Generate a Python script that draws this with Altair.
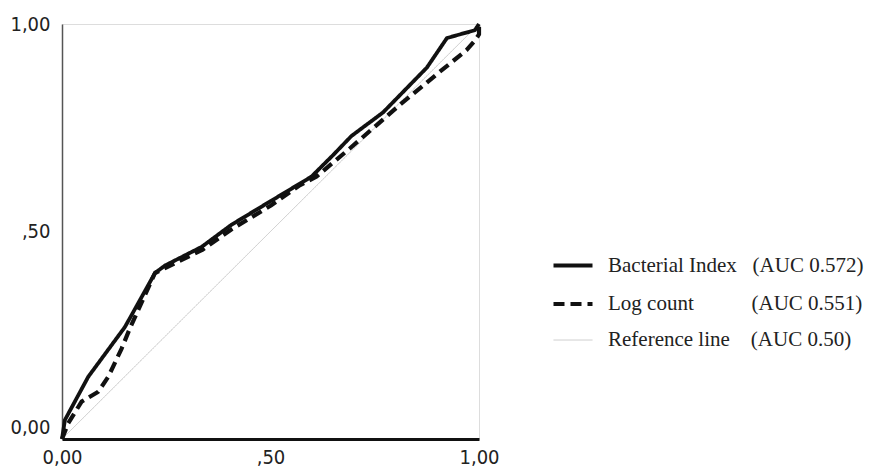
import altair as alt
import pandas as pd

# ROC data
bi_fpr = [0, 0.007, 0.02, 0.063, 0.151, 0.223, 0.247, 0.335, 0.406, 0.5, 0.598, 0.65, 0.694, 0.77, 0.875, 0.923, 0.947, 0.99, 1.0]
bi_tpr = [0, 0.046, 0.07, 0.15, 0.27, 0.40, 0.418, 0.463, 0.516, 0.573, 0.632, 0.684, 0.73, 0.787, 0.895, 0.966, 0.973, 0.985, 1.0]

lc_fpr = [0, 0.015, 0.047, 0.087, 0.111, 0.143, 0.163, 0.223, 0.247, 0.335, 0.406, 0.5, 0.571, 0.61, 0.69, 0.81, 0.906, 0.97, 0.99, 1.0, 1.0]
lc_tpr = [0, 0.038, 0.09, 0.114, 0.15, 0.218, 0.267, 0.40, 0.412, 0.455, 0.505, 0.562, 0.612, 0.632, 0.70, 0.805, 0.885, 0.937, 0.96, 0.975, 1.0]

ref_fpr = [0, 1]
ref_tpr = [0, 1]

series_names = [
    "Bacterial Index\u00a0\u00a0\u00a0(AUC 0.572)",
    "\u00a0Log count\u00a0\u00a0\u00a0\u00a0\u00a0\u00a0\u00a0\u00a0\u00a0\u00a0\u00a0(AUC 0.551)",
    "Reference line\u00a0\u00a0\u00a0\u00a0(AUC 0.50)",
]
series_colors = ["#111111", "#111111", "#c8c8c8"]
series_dash = [[1, 0], [11, 6], [1, 0]]
series_width = [3.8, 4.2, 1]

tick_values = [0, 0.5, 1]
tick_labels = ["0,00", ",50", "1,00"]

rows = []
# drawing order: reference first, dashed, then solid on top
for name, xs, ys in [
    (series_names[2], ref_fpr, ref_tpr),
    (series_names[1], lc_fpr, lc_tpr),
    (series_names[0], bi_fpr, bi_tpr),
]:
    for i, (x, y) in enumerate(zip(xs, ys)):
        rows.append({"series": name, "fpr": x, "tpr": y, "idx": i})
df = pd.DataFrame(rows)

label_expr = " : ".join(
    f"datum.value == {v} ? '{l}'" for v, l in zip(tick_values, tick_labels)
) + " : ''"

axis_font = "DejaVu Sans Condensed, DejaVu Sans"

chart = alt.Chart(df).mark_line(strokeCap="butt", strokeJoin="round").encode(
    x=alt.X("fpr:Q", scale=alt.Scale(domain=[0, 1], nice=False, zero=False),
            axis=alt.Axis(values=tick_values, labelExpr=label_expr, title=None,
                          ticks=False, grid=False, labelFont=axis_font, labelFontSize=20,
                          labelColor="#222", labelPadding=8, domainColor="#111",
                          domainWidth=3, labelFlush=False)),
    y=alt.Y("tpr:Q", scale=alt.Scale(domain=[0, 1], nice=False, zero=False),
            axis=alt.Axis(values=tick_values, labelExpr=label_expr, title=None,
                          ticks=False, grid=False, labelFont=axis_font, labelFontSize=20,
                          labelColor="#222", labelPadding=12, domainColor="#555",
                          domainWidth=1.5, labelFlush=False,
                          labelOffset={"condition": {"test": "datum.value == 0", "value": -12}, "value": 0})),
    color=alt.Color("series:N", scale=alt.Scale(domain=series_names, range=series_colors),
                    legend=alt.Legend(title=None, orient="none", legendX=489, legendY=220,
                                      symbolType="stroke", symbolSize=1521,
                                      labelFont="Liberation Serif", labelFontSize=21,
                                      labelColor="#222", labelOffset=13, rowPadding=6,
                                      labelLimit=400)),
    strokeDash=alt.StrokeDash("series:N", scale=alt.Scale(domain=series_names, range=series_dash)),
    strokeWidth=alt.StrokeWidth("series:N", scale=alt.Scale(type="ordinal", domain=series_names, range=series_width)),
    detail="series:N",
    order="idx:Q",
).properties(
    width=417,
    height=415,
    autosize=alt.AutoSizeParams(type="none"),
    padding={"left": 54, "top": 16, "right": 385, "bottom": 30},
).configure_view(
    stroke="#555", strokeWidth=1.5
).configure(background="white")

chart.save("out.html", embed_options={"renderer": "svg", "actions": False})
